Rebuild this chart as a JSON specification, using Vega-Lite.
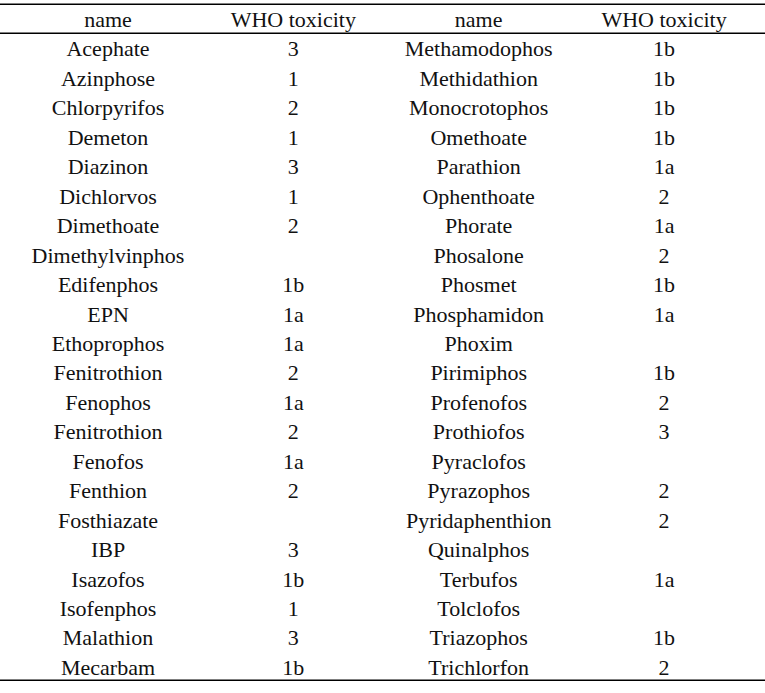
{
  "$schema": "https://vega.github.io/schema/vega-lite/v6.json",
  "autosize": {"type": "none"},
  "width": 765,
  "height": 693,
  "padding": 0,
  "background": "white",
  "config": {"view": {"stroke": null}},
  "datasets": {
    "cells": [
      {"r": 0, "c": "name1", "t": "name"}, {"r": 0, "c": "who1", "t": "WHO toxicity"}, {"r": 0, "c": "name2", "t": "name"}, {"r": 0, "c": "who2", "t": "WHO toxicity"},
      {"r": 1, "c": "name1", "t": "Acephate"}, {"r": 1, "c": "who1", "t": "3"}, {"r": 1, "c": "name2", "t": "Methamodophos"}, {"r": 1, "c": "who2", "t": "1b"},
      {"r": 2, "c": "name1", "t": "Azinphose"}, {"r": 2, "c": "who1", "t": "1"}, {"r": 2, "c": "name2", "t": "Methidathion"}, {"r": 2, "c": "who2", "t": "1b"},
      {"r": 3, "c": "name1", "t": "Chlorpyrifos"}, {"r": 3, "c": "who1", "t": "2"}, {"r": 3, "c": "name2", "t": "Monocrotophos"}, {"r": 3, "c": "who2", "t": "1b"},
      {"r": 4, "c": "name1", "t": "Demeton"}, {"r": 4, "c": "who1", "t": "1"}, {"r": 4, "c": "name2", "t": "Omethoate"}, {"r": 4, "c": "who2", "t": "1b"},
      {"r": 5, "c": "name1", "t": "Diazinon"}, {"r": 5, "c": "who1", "t": "3"}, {"r": 5, "c": "name2", "t": "Parathion"}, {"r": 5, "c": "who2", "t": "1a"},
      {"r": 6, "c": "name1", "t": "Dichlorvos"}, {"r": 6, "c": "who1", "t": "1"}, {"r": 6, "c": "name2", "t": "Ophenthoate"}, {"r": 6, "c": "who2", "t": "2"},
      {"r": 7, "c": "name1", "t": "Dimethoate"}, {"r": 7, "c": "who1", "t": "2"}, {"r": 7, "c": "name2", "t": "Phorate"}, {"r": 7, "c": "who2", "t": "1a"},
      {"r": 8, "c": "name1", "t": "Dimethylvinphos"}, {"r": 8, "c": "who1", "t": ""}, {"r": 8, "c": "name2", "t": "Phosalone"}, {"r": 8, "c": "who2", "t": "2"},
      {"r": 9, "c": "name1", "t": "Edifenphos"}, {"r": 9, "c": "who1", "t": "1b"}, {"r": 9, "c": "name2", "t": "Phosmet"}, {"r": 9, "c": "who2", "t": "1b"},
      {"r": 10, "c": "name1", "t": "EPN"}, {"r": 10, "c": "who1", "t": "1a"}, {"r": 10, "c": "name2", "t": "Phosphamidon"}, {"r": 10, "c": "who2", "t": "1a"},
      {"r": 11, "c": "name1", "t": "Ethoprophos"}, {"r": 11, "c": "who1", "t": "1a"}, {"r": 11, "c": "name2", "t": "Phoxim"}, {"r": 11, "c": "who2", "t": ""},
      {"r": 12, "c": "name1", "t": "Fenitrothion"}, {"r": 12, "c": "who1", "t": "2"}, {"r": 12, "c": "name2", "t": "Pirimiphos"}, {"r": 12, "c": "who2", "t": "1b"},
      {"r": 13, "c": "name1", "t": "Fenophos"}, {"r": 13, "c": "who1", "t": "1a"}, {"r": 13, "c": "name2", "t": "Profenofos"}, {"r": 13, "c": "who2", "t": "2"},
      {"r": 14, "c": "name1", "t": "Fenitrothion"}, {"r": 14, "c": "who1", "t": "2"}, {"r": 14, "c": "name2", "t": "Prothiofos"}, {"r": 14, "c": "who2", "t": "3"},
      {"r": 15, "c": "name1", "t": "Fenofos"}, {"r": 15, "c": "who1", "t": "1a"}, {"r": 15, "c": "name2", "t": "Pyraclofos"}, {"r": 15, "c": "who2", "t": ""},
      {"r": 16, "c": "name1", "t": "Fenthion"}, {"r": 16, "c": "who1", "t": "2"}, {"r": 16, "c": "name2", "t": "Pyrazophos"}, {"r": 16, "c": "who2", "t": "2"},
      {"r": 17, "c": "name1", "t": "Fosthiazate"}, {"r": 17, "c": "who1", "t": ""}, {"r": 17, "c": "name2", "t": "Pyridaphenthion"}, {"r": 17, "c": "who2", "t": "2"},
      {"r": 18, "c": "name1", "t": "IBP"}, {"r": 18, "c": "who1", "t": "3"}, {"r": 18, "c": "name2", "t": "Quinalphos"}, {"r": 18, "c": "who2", "t": ""},
      {"r": 19, "c": "name1", "t": "Isazofos"}, {"r": 19, "c": "who1", "t": "1b"}, {"r": 19, "c": "name2", "t": "Terbufos"}, {"r": 19, "c": "who2", "t": "1a"},
      {"r": 20, "c": "name1", "t": "Isofenphos"}, {"r": 20, "c": "who1", "t": "1"}, {"r": 20, "c": "name2", "t": "Tolclofos"}, {"r": 20, "c": "who2", "t": ""},
      {"r": 21, "c": "name1", "t": "Malathion"}, {"r": 21, "c": "who1", "t": "3"}, {"r": 21, "c": "name2", "t": "Triazophos"}, {"r": 21, "c": "who2", "t": "1b"},
      {"r": 22, "c": "name1", "t": "Mecarbam"}, {"r": 22, "c": "who1", "t": "1b"}, {"r": 22, "c": "name2", "t": "Trichlorfon"}, {"r": 22, "c": "who2", "t": "2"}
    ],
    "lines": [
      {"r": -0.5},
      {"r": 0.48},
      {"r": 22.45}
    ]
  },
  "layer": [
    {
      "data": {"name": "lines"},
      "mark": {"type": "rule", "color": "black", "strokeWidth": 1.5},
      "encoding": {
        "y": {"field": "r", "type": "quantitative", "scale": {"domain": [-0.645, 22.886], "reverse": true, "nice": false, "zero": false}, "axis": null}
      }
    },
    {
      "data": {"name": "cells"},
      "mark": {"type": "text", "font": "Liberation Serif", "fontSize": 22, "color": "#111111", "align": "center", "baseline": "middle", "dy": 1},
      "encoding": {
        "x": {"field": "c", "type": "nominal", "scale": {"type": "point", "domain": ["name1", "who1", "name2", "who2"], "range": [108, 664], "padding": 0}, "axis": null},
        "y": {"field": "r", "type": "quantitative", "scale": {"domain": [-0.645, 22.886], "reverse": true, "nice": false, "zero": false}, "axis": null},
        "text": {"field": "t", "type": "nominal"}
      }
    }
  ]
}
